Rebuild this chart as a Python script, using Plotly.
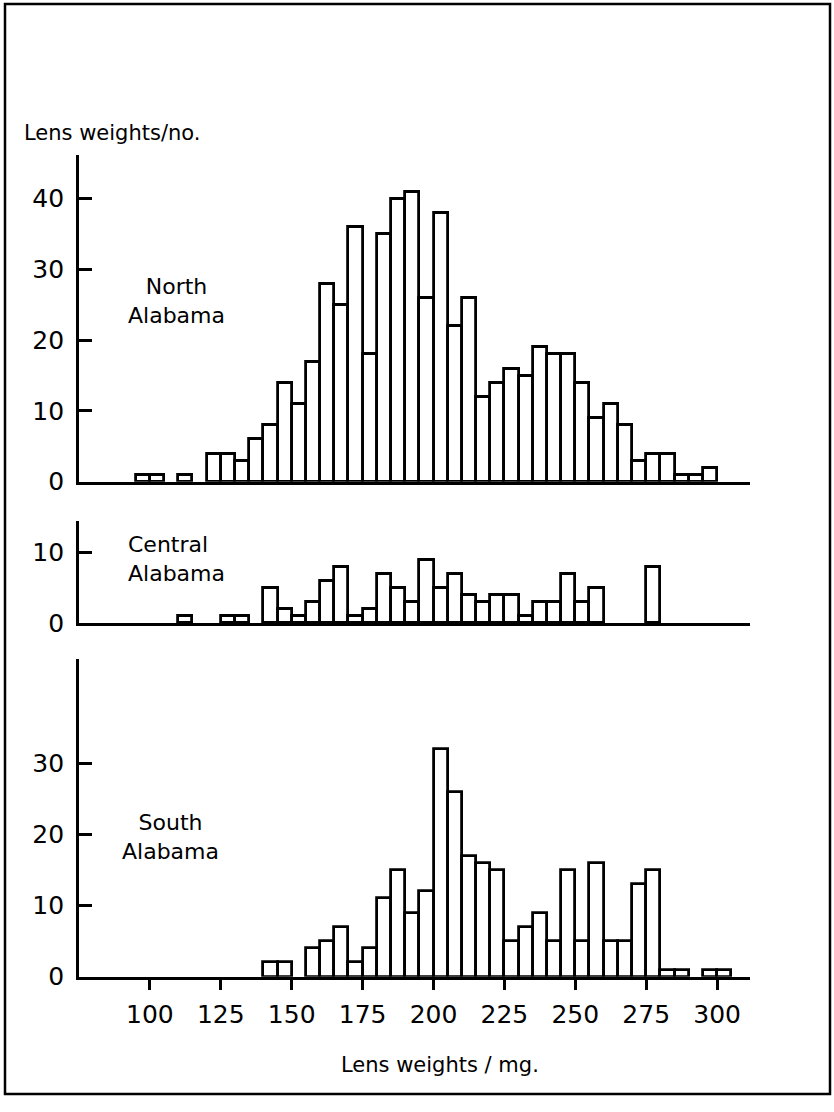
import plotly.graph_objects as go

# Lens-weight histograms, 5 mg classes (values are the lower edge of each class)
north_bins = list(range(95, 300, 5))
north_counts = [1, 1, 0, 1, 0, 4, 4, 3, 6, 8, 14, 11, 17, 28, 25, 36, 18, 35, 40, 41,
                26, 38, 22, 26, 12, 14, 16, 15, 19, 18, 18, 14, 9, 11, 8, 3, 4, 4, 1, 1, 2]

central_bins = list(range(110, 280, 5))
central_counts = [1, 0, 0, 1, 1, 0, 5, 2, 1, 3, 6, 8, 1, 2, 7, 5, 3, 9, 5, 7,
                  4, 3, 4, 4, 1, 3, 3, 7, 3, 5, 0, 0, 0, 8]

south_bins = list(range(140, 305, 5))
south_counts = [2, 2, 0, 4, 5, 7, 2, 4, 11, 15, 9, 12, 32, 26, 17, 16, 15, 5, 7, 9,
                5, 15, 5, 16, 5, 5, 13, 15, 1, 1, 0, 1, 1]

bin_width = 5
x_ticks = [100, 125, 150, 175, 200, 225, 250, 275, 300]
north_yticks = [0, 10, 20, 30, 40]
central_yticks = [0, 10]
south_yticks = [0, 10, 20, 30]

region_labels = ["North<br>Alabama", "Central<br>Alabama", "South<br>Alabama"]
y_title = "Lens weights/no."
x_title = "Lens weights / mg."

FONT = "DejaVu Sans"
W, H = 834, 1112
X_RANGE = [75.0, 311.6]
X_DOMAIN = [79 / W, 750 / W]
LW = 2.8


def dom(bottom_px, top_px):
    return [1 - bottom_px / H, 1 - top_px / H]


fig = go.Figure()

panels = [
    (north_bins, north_counts, "x", "y"),
    (central_bins, central_counts, "x2", "y2"),
    (south_bins, south_counts, "x3", "y3"),
]
for bins, counts, xa, ya in panels:
    xs = [b + bin_width / 2 for b, c in zip(bins, counts) if c > 0]
    ys = [c for c in counts if c > 0]
    fig.add_trace(go.Bar(
        x=xs, y=ys, width=bin_width, xaxis=xa, yaxis=ya,
        marker=dict(color="white", line=dict(color="black", width=LW)),
        showlegend=False, hoverinfo="skip",
    ))

axis_font = dict(family=FONT, size=25, color="black")

common_x = dict(range=X_RANGE, domain=X_DOMAIN, showline=True, linecolor="black",
                linewidth=LW, showgrid=False, zeroline=False, fixedrange=True)
common_y = dict(showline=True, linecolor="black", linewidth=LW, showgrid=False,
                zeroline=False, ticks="inside", ticklen=13, tickwidth=LW,
                tickcolor="black", tickfont=axis_font, ticklabelstandoff=7,
                fixedrange=True)

fig.update_layout(
    width=W, height=H,
    margin=dict(l=0, r=0, t=0, b=0),
    paper_bgcolor="white", plot_bgcolor="white",
    bargap=0,
    font=dict(family=FONT, color="black"),
    xaxis=dict(**common_x, anchor="y", showticklabels=False, ticks=""),
    xaxis2=dict(**common_x, anchor="y2", showticklabels=False, ticks=""),
    xaxis3=dict(**common_x, anchor="y3", tickvals=x_ticks, ticks="outside",
                ticklen=10, tickwidth=LW, tickcolor="black", tickfont=axis_font,
                ticklabelstandoff=3),
    yaxis=dict(**common_y, anchor="x", domain=dom(488.3, 157), range=[0, 46.2],
               tickvals=north_yticks),
    yaxis2=dict(**common_y, anchor="x2", domain=dom(631.7, 528), range=[0, 14.46],
                tickvals=central_yticks),
    yaxis3=dict(**common_y, anchor="x3", domain=dom(990, 668), range=[0, 44.7],
                tickvals=south_yticks),
)

label_font = dict(family=FONT, size=22, color="black")
fig.add_annotation(text=region_labels[0], xref="paper", yref="paper",
                   x=176 / W, y=1 - 305 / H, showarrow=False, font=label_font,
                   align="center", xanchor="center", yanchor="middle")
fig.add_annotation(text=region_labels[1], xref="paper", yref="paper",
                   x=126 / W, y=1 - 567 / H, showarrow=False, font=label_font,
                   align="left", xanchor="left", yanchor="middle")
fig.add_annotation(text=region_labels[2], xref="paper", yref="paper",
                   x=170 / W, y=1 - 848 / H, showarrow=False, font=label_font,
                   align="center", xanchor="center", yanchor="middle")

fig.add_annotation(text=y_title, xref="paper", yref="paper",
                   x=22 / W, y=1 - 135 / H, showarrow=False,
                   font=dict(family=FONT, size=21, color="black"),
                   xanchor="left", yanchor="middle")
fig.add_annotation(text=x_title, xref="paper", yref="paper",
                   x=440 / W, y=1 - 1080 / H, showarrow=False,
                   font=dict(family=FONT, size=21, color="black"),
                   xanchor="center", yanchor="middle")

# Outer frame around the figure
fig.add_shape(type="rect", xref="paper", yref="paper",
              x0=5 / W, x1=830 / W, y0=1 - 1109 / H, y1=1 - 4 / H,
              line=dict(color="black", width=2.5), fillcolor="rgba(0,0,0,0)",
              layer="above")

fig.write_html("out.html")
